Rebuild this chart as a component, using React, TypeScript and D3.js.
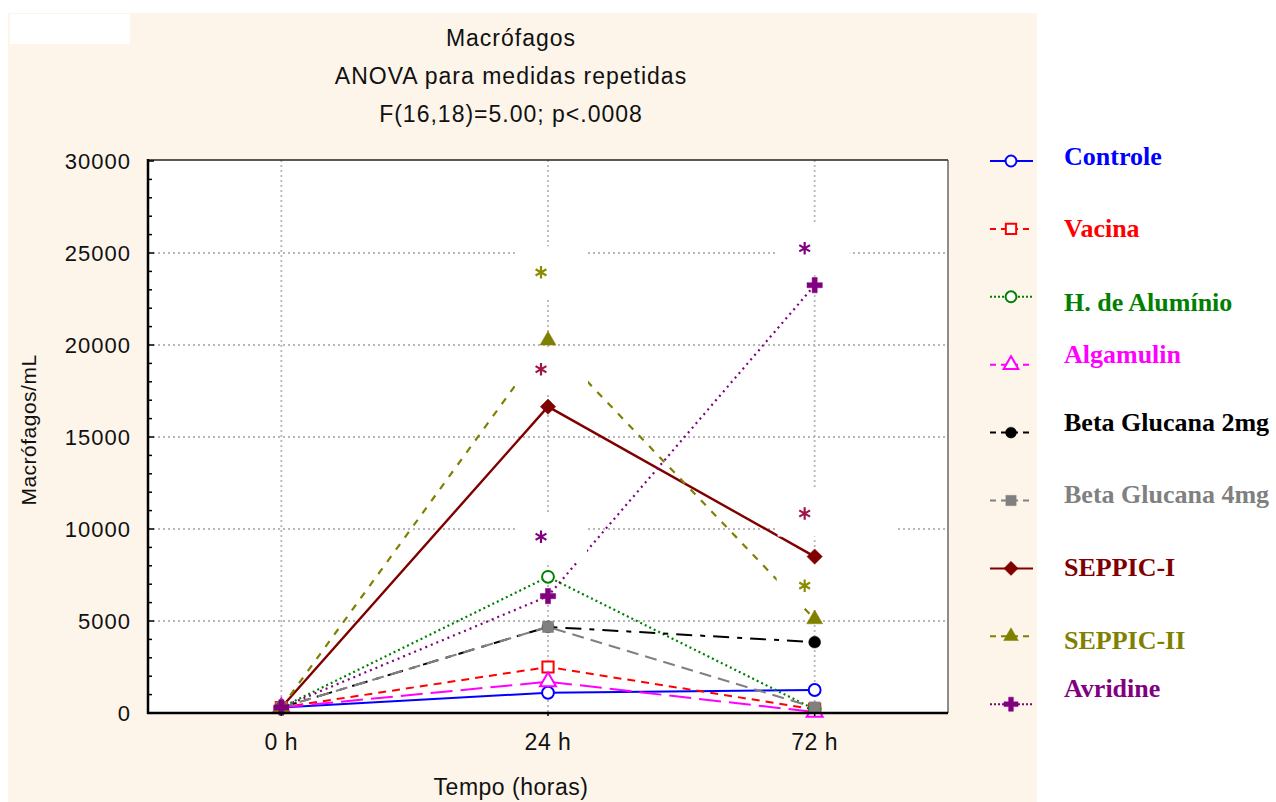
import React from "react";
import * as d3 from "d3";

// ---------- data ----------
const TIMES = ["0 h", "24 h", "72 h"];
const Y_TICKS = [0, 5000, 10000, 15000, 20000, 25000, 30000];
const MINOR_TICKS = d3.range(0, 30001, 1000);
const GRID_Y = [5000, 10000, 15000, 20000, 25000];

const SERIES_NAMES = [
  "Controle",
  "Vacina",
  "H. de Alumínio",
  "Algamulin",
  "Beta Glucana 2mg",
  "Beta Glucana 4mg",
  "SEPPIC-I",
  "SEPPIC-II",
  "Avridine",
];

const controle = [300, 1100, 1250];
const vacina = [300, 2500, 200];
const hAluminio = [300, 7400, 200];
const algamulin = [300, 1700, 50];
const betaGlucana2 = [300, 4680, 3850];
const betaGlucana4 = [300, 4680, 300];
const seppic1 = [300, 16650, 8500];
const seppic2 = [300, 20250, 5100];
const avridine = [300, 6350, 23250];

const SERIES_VALUES = [
  controle,
  vacina,
  hAluminio,
  algamulin,
  betaGlucana2,
  betaGlucana4,
  seppic1,
  seppic2,
  avridine,
];

// significance asterisks: time, value level
const ASTERISK_TIMES = ["24 h", "24 h", "24 h", "72 h", "72 h", "72 h"];
const ASTERISK_VALUES = [23950, 18680, 9580, 25260, 10840, 6920];

const TITLE_LINES = [
  "Macrófagos",
  "ANOVA para medidas repetidas",
  "F(16,18)=5.00; p<.0008",
];
const Y_LABEL = "Macrófagos/mL";
const X_LABEL = "Tempo (horas)";

// ---------- styles / layout ----------
const SERIES_STYLE = [
  { color: "#0000ff", dash: null, sym: "circle", fill: false, w: 2 },
  { color: "#ff0000", dash: "8,6", sym: "square", fill: false, w: 2 },
  { color: "#008000", dash: "2,3", sym: "circle", fill: false, w: 2.2 },
  { color: "#ff00ff", dash: "22,8", sym: "triangle", fill: false, w: 2 },
  { color: "#000000", dash: "16,8,5,8", sym: "circle", fill: true, w: 2 },
  { color: "#808080", dash: "12,7", sym: "square", fill: true, w: 2 },
  { color: "#800000", dash: null, sym: "diamond", fill: true, w: 2.4 },
  { color: "#808000", dash: "7,8", sym: "triangle", fill: true, w: 2.2 },
  { color: "#800080", dash: "2,4", sym: "cross", fill: true, w: 2.2 },
];

const ASTERISK_STYLE = [
  { color: "#8c8c00", dx: -7, box: [-26, -26, 72, 51] },
  { color: "#a0144a", dx: -7, box: [-26, -22, 73, 47] },
  { color: "#800080", dx: -7, box: [-26, -24, 72, 49] },
  { color: "#800080", dx: -10, box: [-27, -24, 72, 48] },
  { color: "#a0144a", dx: -10, box: [-27, -26, 120, 49] },
  { color: "#8c8c00", dx: -10, box: [-28, -24, 97, 46] },
];

const LEGEND_TEXT_DY = [4, 8, 14, -2, -2, 2, 8, 13, -7];

const W = 1276;
const H = 802;
const PL = 148,
  PR = 948,
  PT = 160,
  PB = 713;

const SANS = "'Liberation Sans', Arial, sans-serif";
const SERIF = "'Liberation Serif', 'Times New Roman', serif";

function symbolPath(sym: string, legend: boolean) {
  const k = legend ? 0.85 : 1;
  let type: any = d3.symbolCircle;
  let size = 100;
  if (sym === "circle") {
    type = d3.symbolCircle;
    size = 110;
  } else if (sym === "square") {
    type = d3.symbolSquare;
    size = 125;
  } else if (sym === "triangle") {
    type = d3.symbolTriangle;
    size = 110;
  } else if (sym === "diamond") {
    type = (d3 as any).symbolDiamond2 || d3.symbolDiamond;
    size = 150;
  } else if (sym === "cross") {
    type = d3.symbolCross;
    size = 130;
  }
  return d3.symbol().type(type).size(size * k)() as string;
}

export default function App() {
  const x = d3.scalePoint<string>().domain(TIMES).range([PL, PR]).padding(0.5);
  const y = d3.scaleLinear().domain([0, 30000]).range([PB, PT + 1]);

  const line = d3
    .line<number>()
    .x((_, i) => x(TIMES[i]) as number)
    .y((d) => y(d));

  const asteriskPath = d3.symbol().type(d3.symbolAsterisk).size(110)() as string;

  const legendY = d3.range(SERIES_NAMES.length).map((i) => 161 + i * 67.9);

  const boxes = ASTERISK_VALUES.map((v, i) => {
    const cx = (x(ASTERISK_TIMES[i]) as number) + ASTERISK_STYLE[i].dx;
    const cy = y(v);
    const b = ASTERISK_STYLE[i].box;
    return (
      <rect
        key={"ab" + i}
        x={cx + b[0]}
        y={cy + b[1]}
        width={b[2]}
        height={b[3]}
        fill="#ffffff"
      />
    );
  });

  return (
    <svg
      width={W}
      height={H}
      style={{ position: "absolute", left: 0, top: 0, display: "block" }}
    >
      {/* backgrounds */}
      <rect x={0} y={0} width={W} height={H} fill="#ffffff" />
      <rect x={8} y={13} width={1029} height={H - 13} fill="#fdf5ea" />
      <rect x={10} y={14} width={120} height={30} fill="#ffffff" />
      <rect x={PL} y={PT} width={PR - PL} height={PB - PT} fill="#ffffff" />

      {/* grid */}
      <g stroke="#b8b8b8" strokeWidth={1.8} strokeDasharray="2,3">
        {GRID_Y.map((v) => (
          <line key={"gy" + v} x1={PL} x2={PR} y1={y(v)} y2={y(v)} />
        ))}
        {TIMES.map((t) => (
          <line key={"gx" + t} x1={x(t)} x2={x(t)} y1={PT} y2={PB} />
        ))}
      </g>

      {/* series lines */}
      {SERIES_VALUES.map((vals, i) => {
        const s = SERIES_STYLE[i];
        return (
          <path
            key={"l" + i}
            d={line(vals) as string}
            fill="none"
            stroke={s.color}
            strokeWidth={s.w}
            strokeDasharray={s.dash ?? undefined}
          />
        );
      })}

      {/* white boxes behind the significance marks */}
      <g>{boxes}</g>

      {/* markers */}
      {SERIES_VALUES.map((vals, i) => {
        const s = SERIES_STYLE[i];
        const p = symbolPath(s.sym, false);
        return (
          <g key={"m" + i}>
            {vals.map((v, j) => (
              <path
                key={j}
                d={p}
                transform={`translate(${x(TIMES[j])},${y(v)})`}
                fill={s.fill ? s.color : "#ffffff"}
                stroke={s.color}
                strokeWidth={s.fill ? 0.5 : 2}
              />
            ))}
          </g>
        );
      })}

      {/* asterisks */}
      {ASTERISK_VALUES.map((v, i) => {
        const cx = (x(ASTERISK_TIMES[i]) as number) + ASTERISK_STYLE[i].dx;
        const cy = y(v);
        return (
          <path
            key={"as" + i}
            d={asteriskPath}
            transform={`translate(${cx},${cy})`}
            fill="none"
            stroke={ASTERISK_STYLE[i].color}
            strokeWidth={2.2}
          />
        );
      })}

      {/* frame & axes */}
      <line x1={PL} x2={PR} y1={PT} y2={PT} stroke="#222" strokeWidth={1.5} />
      <line x1={PR} x2={PR} y1={PT} y2={PB} stroke="#444" strokeWidth={1.2} />
      <line x1={PL} x2={PL} y1={PT - 1} y2={PB + 1} stroke="#000" strokeWidth={2.5} />
      <line x1={PL - 1} x2={PR} y1={PB} y2={PB} stroke="#000" strokeWidth={2.5} />

      {/* minor ticks */}
      {MINOR_TICKS.map((v) => (
        <line
          key={"mt" + v}
          x1={PL}
          x2={PL + (v % 5000 === 0 ? 6 : 4)}
          y1={y(v)}
          y2={y(v)}
          stroke="#000"
          strokeWidth={1.5}
        />
      ))}
      {TIMES.map((t) => (
        <line
          key={"xt" + t}
          x1={x(t)}
          x2={x(t)}
          y1={PB}
          y2={PB + 3}
          stroke="#000"
          strokeWidth={1.5}
        />
      ))}

      {/* y tick labels */}
      {Y_TICKS.map((v) => (
        <text
          key={"yl" + v}
          x={PL - 17}
          y={y(v) + 8}
          textAnchor="end"
          fontFamily={SANS}
          fontSize={22}
          letterSpacing={1}
          fill="#111"
        >
          {v}
        </text>
      ))}

      {/* x tick labels */}
      {TIMES.map((t) => (
        <text
          key={"xl" + t}
          x={x(t)}
          y={750}
          textAnchor="middle"
          fontFamily={SANS}
          fontSize={23}
          letterSpacing={0.5}
          fill="#111"
        >
          {t}
        </text>
      ))}

      {/* axis titles */}
      <text
        x={511}
        y={795}
        textAnchor="middle"
        fontFamily={SANS}
        fontSize={23}
        letterSpacing={0.5}
        fill="#111"
      >
        {X_LABEL}
      </text>
      <text
        transform="translate(36,430) rotate(-90)"
        textAnchor="middle"
        fontFamily={SANS}
        fontSize={21}
        letterSpacing={0.5}
        fill="#111"
      >
        {Y_LABEL}
      </text>

      {/* title */}
      {TITLE_LINES.map((t, i) => (
        <text
          key={"t" + i}
          x={511}
          y={46 + i * 38}
          textAnchor="middle"
          fontFamily={SANS}
          fontSize={23}
          letterSpacing={1}
          fill="#111"
        >
          {t}
        </text>
      ))}

      {/* legend */}
      {SERIES_NAMES.map((name, i) => {
        const s = SERIES_STYLE[i];
        const ly = legendY[i];
        return (
          <g key={"lg" + i}>
            <line
              x1={990}
              x2={1033}
              y1={ly}
              y2={ly}
              stroke={s.color}
              strokeWidth={2}
              strokeDasharray={
                s.dash
                  ? s.dash === "2,3" || s.dash === "2,4"
                    ? "2,2"
                    : "6,5"
                  : undefined
              }
            />
            <path
              d={symbolPath(s.sym, true)}
              transform={`translate(1011,${ly})`}
              fill={s.fill ? s.color : "#ffffff"}
              stroke={s.color}
              strokeWidth={s.fill ? 0.5 : 2}
            />
            <text
              x={1064}
              y={ly + LEGEND_TEXT_DY[i]}
              fontFamily={SERIF}
              fontWeight="bold"
              fontSize={26}
              fill={s.color}
            >
              {name}
            </text>
          </g>
        );
      })}
    </svg>
  );
}
